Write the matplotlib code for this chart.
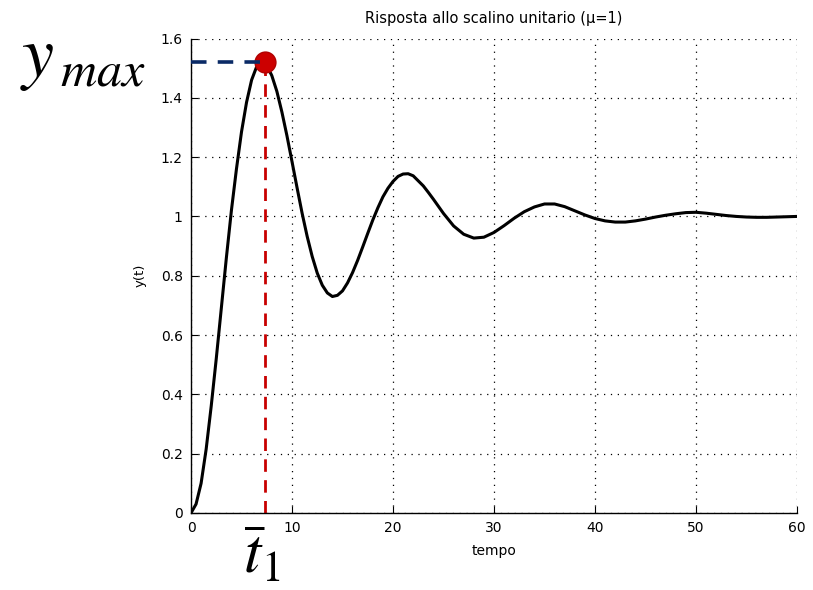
import matplotlib
matplotlib.use("Agg")
import matplotlib.pyplot as plt

# ---- data ----
t = [0, 0.5, 1, 1.5, 2, 2.5, 3, 3.5, 4, 4.5, 5, 5.5, 6, 6.5, 7, 7.5, 8, 8.5,
     9, 9.5, 10, 10.5, 11, 11.5, 12, 12.5, 13, 13.5, 14, 14.5, 15, 15.5, 16,
     16.5, 17, 17.5, 18, 18.5, 19, 19.5, 20, 20.5, 21, 21.5, 22, 22.5, 23,
     23.5, 24, 25, 26, 27, 28, 29, 30, 31, 32, 33, 34, 35, 36, 37, 38, 39,
     40, 41, 42, 43, 44, 45, 46, 47, 48, 49, 50, 51, 52, 53, 54, 55, 56, 57,
     58, 59, 60]
y = [0.0, 0.03, 0.10, 0.215, 0.36, 0.52, 0.69, 0.86, 1.02, 1.16, 1.285,
     1.385, 1.46, 1.505, 1.52, 1.51, 1.475, 1.422, 1.352, 1.272, 1.185,
     1.097, 1.011, 0.933, 0.865, 0.809, 0.768, 0.742, 0.730, 0.734, 0.749,
     0.776, 0.811, 0.852, 0.897, 0.943, 0.988, 1.029, 1.066, 1.095, 1.118,
     1.135, 1.143, 1.144, 1.137, 1.120, 1.103, 1.081, 1.058, 1.010, 0.968,
     0.940, 0.927, 0.930, 0.946, 0.969, 0.994, 1.016, 1.032, 1.042, 1.042,
     1.033, 1.019, 1.005, 0.993, 0.985, 0.981, 0.981, 0.985, 0.991, 0.998,
     1.004, 1.009, 1.013, 1.014, 1.011, 1.007, 1.003, 1.000, 0.998, 0.997,
     0.997, 0.998, 0.999, 1.000]
t1 = 7.35
ymax = 1.52

xticks = [0, 10, 20, 30, 40, 50, 60]
yticks = [0, 0.2, 0.4, 0.6, 0.8, 1.0, 1.2, 1.4, 1.6]
yticklabels = ["0", "0.2", "0.4", "0.6", "0.8", "1", "1.2", "1.4", "1.6"]

plt.rcParams['font.family'] = ['DejaVu Sans']
plt.rcParams['mathtext.fontset'] = 'stix'

W, H = 813, 590
fig = plt.figure(figsize=(W/100, H/100), dpi=100)
ax = fig.add_axes([191/W, 1-513/H, (797-191)/W, (513-38.5)/H])

ax.plot(t, y, color='black', lw=2.2, zorder=3)
ax.plot([t1, t1], [0, ymax], color='#C80000', lw=2.0, dashes=(4.5, 3), zorder=2)
ax.plot([t1], [ymax], 'o', ms=15, color='#CC0000', mec='#B00000', zorder=4,
        clip_on=False)
ax.plot([0, t1], [ymax, ymax], color='#0A2A66', lw=2.6, dashes=(4.3, 3.1),
        zorder=5, solid_capstyle='butt', dash_capstyle='butt')

ax.set_xlim(0, 60)
ax.set_ylim(0, 1.6)
ax.set_xticks(xticks)
ax.set_yticks(yticks)
ax.set_yticklabels(yticklabels)
ax.tick_params(direction='in', length=5, width=0.8, labelsize=10, pad=6,
               colors='black')
ax.grid(True, color='black', linestyle=(0, (1, 4.5)), lw=0.9)
for s in ['top', 'right']:
    ax.spines[s].set_visible(False)
for s in ['left', 'bottom']:
    ax.spines[s].set_linewidth(1.0)

ax.set_title("Risposta allo scalino unitario (μ=1)", fontsize=10.5, pad=11)
ax.set_xlabel("tempo", fontsize=10, labelpad=6)
ax.set_ylabel("y(t)", fontsize=9.5, labelpad=10)

# annotations
fig.text(20/W, 1-76/H, r'$y$', fontsize=52, ha='left', va='baseline')
fig.text(60/W, 1-85/H, r'$max$', fontsize=36, ha='left', va='baseline')
fig.text(243/W, 1-574/H, r'$\bar{t}_1$', fontsize=45, ha='left',
         va='baseline')

fig.savefig("out.png", dpi=100)
